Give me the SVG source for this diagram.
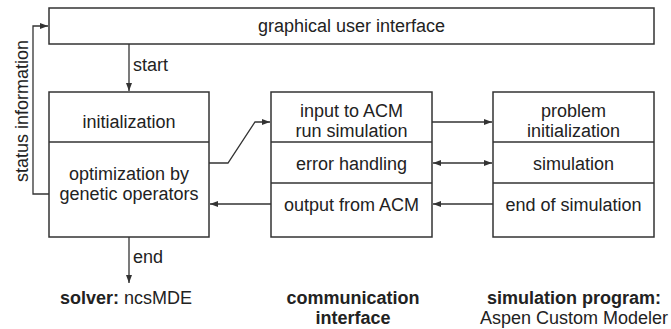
<svg xmlns="http://www.w3.org/2000/svg" width="671" height="329" viewBox="0 0 671 329">
<style>
.box{fill:#fff;stroke:#333;stroke-width:1.5}
.div{stroke:#333;stroke-width:1.5}
.ln{fill:none;stroke:#333;stroke-width:1.3}
text{font-family:"Liberation Sans",Arial,sans-serif;font-size:18px;fill:#222}
.c{text-anchor:middle}
.b{font-weight:bold}
</style>
<defs>
<marker id="ah" viewBox="0 0 8 6" refX="8" refY="3" markerWidth="8" markerHeight="6" markerUnits="userSpaceOnUse" orient="auto-start-reverse">
<path d="M0,0 L8,3 L0,6 z" fill="#333"/>
</marker>
</defs>
<g id="gui">
<rect class="box" x="49" y="8" width="605" height="36"/>
<text class="c" x="351.5" y="32">graphical user interface</text>
</g>
<g id="solver">
<rect class="box" x="49" y="92" width="160" height="145"/>
<line class="div" x1="49" y1="142" x2="209" y2="142"/>
<text class="c" x="129" y="128">initialization</text>
<text class="c" x="129" y="180">optimization by</text>
<text class="c" x="129" y="200">genetic operators</text>
</g>
<g id="comm">
<rect class="box" x="271" y="92" width="161" height="145"/>
<line class="div" x1="271" y1="142" x2="432" y2="142"/>
<line class="div" x1="271" y1="183" x2="432" y2="183"/>
<text class="c" x="351.5" y="117">input to ACM</text>
<text class="c" x="351.5" y="137">run simulation</text>
<text class="c" x="351.5" y="170">error handling</text>
<text class="c" x="351.5" y="211">output from ACM</text>
</g>
<g id="sim">
<rect class="box" x="493" y="92" width="161" height="145"/>
<line class="div" x1="493" y1="142" x2="654" y2="142"/>
<line class="div" x1="493" y1="183" x2="654" y2="183"/>
<text class="c" x="573.5" y="117">problem</text>
<text class="c" x="573.5" y="137">initialization</text>
<text class="c" x="573.5" y="170">simulation</text>
<text class="c" x="573.5" y="211">end of simulation</text>
</g>
<g id="connectors">
<line class="ln" x1="129" y1="44" x2="129" y2="91" marker-end="url(#ah)"/>
<polyline class="ln" points="49,194 33,194 33,26 48,26" marker-end="url(#ah)"/>
<polyline class="ln" points="209,163 228,163 255,122 270,122" marker-end="url(#ah)"/>
<line class="ln" x1="271" y1="204" x2="210" y2="204" marker-end="url(#ah)"/>
<line class="ln" x1="432" y1="122" x2="492" y2="122" marker-end="url(#ah)"/>
<line class="ln" x1="433" y1="163" x2="492" y2="163" marker-start="url(#ah)" marker-end="url(#ah)"/>
<line class="ln" x1="493" y1="204" x2="433" y2="204" marker-end="url(#ah)"/>
<line class="ln" x1="129" y1="237" x2="129" y2="283" marker-end="url(#ah)"/>
<text x="133" y="71">start</text>
<text x="133" y="263">end</text>
<text class="c" transform="translate(28,111) rotate(-90)">status information</text>
</g>
<g id="labels">
<text class="c" x="126" y="304"><tspan class="b">solver:</tspan> ncsMDE</text>
<text class="c b" x="353" y="304">communication</text>
<text class="c b" x="353" y="324">interface</text>
<text class="c b" x="574" y="304">simulation program:</text>
<text class="c" x="574" y="324">Aspen Custom Modeler</text>
</g>
</svg>
